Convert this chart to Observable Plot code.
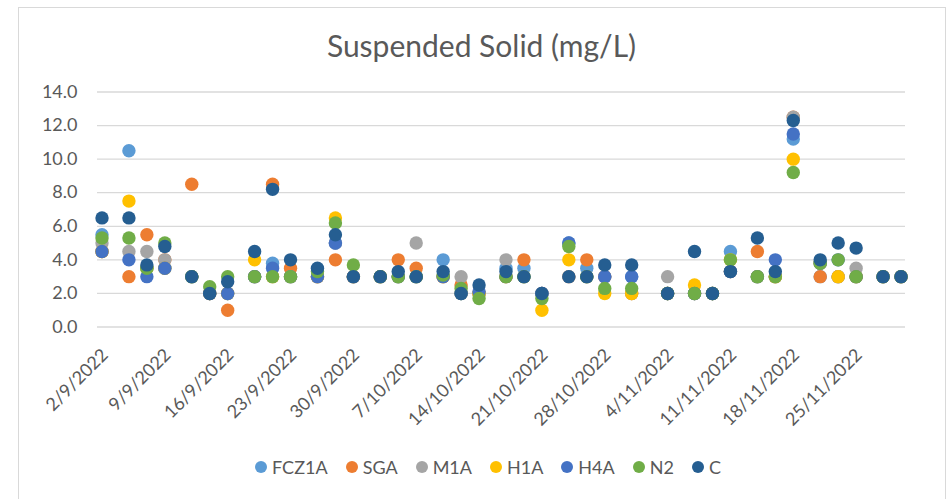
<!DOCTYPE html>
<html>
<head>
<meta charset="utf-8">
<script src="https://cdn.jsdelivr.net/npm/d3@7"></script>
<script src="https://cdn.jsdelivr.net/npm/@observablehq/plot@0.6"></script>
<style>
  html, body { margin: 0; padding: 0; background: #fff; }
  #wrap { position: relative; width: 952px; height: 499px; overflow: hidden; font-family: Lato, "Open Sans", sans-serif; color: #595959; }
  #frame { position: absolute; left: 18px; top: 7px; width: 928px; height: 520px; box-sizing: border-box; border: 1px solid #d9d9d9; }
  #title { position: absolute; left: 0; width: 963px; top: 25px; height: 40px; line-height: 40px; text-align: center; font-size: 30px; }
  #chart { position: absolute; left: 0; top: 70px; }
  #legend { position: absolute; left: 0; width: 976px; top: 455px; height: 24px; display: flex; justify-content: center; align-items: center; gap: 18px; font-size: 18px; }
  #legend .item { display: flex; align-items: center; gap: 5px; }
  #legend .sw { width: 12px; height: 12px; border-radius: 50%; display: inline-block; }
</style>
</head>
<body>
<div id="wrap">
  <div id="frame"></div>
  <div id="title">Suspended Solid (mg/L)</div>
  <div id="chart"></div>
  <div id="legend"></div>
</div>
<script>
// Sampling dates (d/m/yyyy)
const dates = ["2/9/2022","5/9/2022","7/9/2022","9/9/2022","12/9/2022","14/9/2022","16/9/2022","19/9/2022","21/9/2022","23/9/2022",
  "26/9/2022","28/9/2022","30/9/2022","3/10/2022","5/10/2022","7/10/2022","10/10/2022","12/10/2022","14/10/2022","17/10/2022",
  "19/10/2022","21/10/2022","24/10/2022","26/10/2022","28/10/2022","31/10/2022","4/11/2022","7/11/2022","9/11/2022","11/11/2022",
  "14/11/2022","16/11/2022","18/11/2022","21/11/2022","23/11/2022","25/11/2022","28/11/2022","30/11/2022"];

const seriesNames = ["FCZ1A","SGA","M1A","H1A","H4A","N2","C"];
const seriesColors = ["#5B9BD5","#ED7D31","#A5A5A5","#FFC000","#4472C4","#70AD47","#255E91"];

const FCZ1A = [5.5,10.5,3.5,3.5,3,2,2,3,3.8,3, 3,5,3,3,3,3,4.0,2,2,3.5, 3.5,2,5,3.5,3,3,2,2,2,4.5, 3,3,11.2,3,3,3,3,3];
const SGA   = [4.5,3.0,5.5,4.0,8.5,2,1.0,3,8.5,3.5, 3,4.0,3,3,4.0,3.5,3,2.5,2,3, 4.0,2,3,4.0,3,2,2,2,2,3.3, 4.5,3,12.5,3.0,3,3,3,3];
const M1A   = [5.0,4.5,4.5,4.0,3,2,2,3,3,3, 3,5,3,3,3,5.0,3,3.0,2,4.0, 3,2,3,3,3,2,3.0,2,2,3.3, 3,3,12.5,3.8,3,3.5,3,3];
const H1A   = [4.5,7.5,3.5,3.5,3,2,2,4.0,3,3, 3,6.5,3,3,3,3,3,2,2,3, 3,1.0,4.0,3,2.0,2.0,2,2.5,2,4.0, 3,3.0,10.0,3.8,3.0,3,3,3];
const H4A   = [4.5,4.0,3.0,3.5,3,2,2.0,3,3.5,3, 3.0,5.0,3,3,3,3,3.0,2,2.1,3, 3,2,5.0,3,3.0,3.0,2,2,2,3.3, 3,4.0,11.5,3.8,4.0,3,3,3];
const N2    = [5.3,5.3,3.5,5.0,3,2.4,3.0,3.0,3.0,3.0, 3.3,6.2,3.7,3,3.0,3,3.1,2.3,1.7,3.0, 3,1.7,4.8,3,2.3,2.3,2,2.0,2,4.0, 3.0,3.0,9.2,3.8,4.0,3.0,3,3];
const C     = [6.5,6.5,3.7,4.8,3.0,2.0,2.7,4.5,8.2,4.0, 3.5,5.5,3.0,3.0,3.3,3.0,3.3,2.0,2.5,3.3, 3.0,2.0,3.0,3.0,3.7,3.7,2.0,4.5,2.0,3.3, 5.3,3.3,12.3,4.0,5.0,4.7,3.0,3.0];

const yTicks = [0,2,4,6,8,10,12,14];
const xTickLabels = ["2/9/2022","9/9/2022","16/9/2022","23/9/2022","30/9/2022","7/10/2022","14/10/2022","21/10/2022","28/10/2022","4/11/2022","11/11/2022","18/11/2022","25/11/2022"];

const seriesValues = [FCZ1A, SGA, M1A, H1A, H4A, N2, C];
const parseDMY = s => { const [d, m, y] = s.split("/").map(Number); return new Date(Date.UTC(y, m - 1, d, 12)); };

const data = [];
seriesNames.forEach((name, i) => {
  seriesValues[i].forEach((v, j) => {
    if (v != null) data.push({series: name, date: parseDMY(dates[j]), value: v});
  });
});

const xTicks = xTickLabels.map(parseDMY);
const fmt = d => `${d.getUTCDate()}/${d.getUTCMonth() + 1}/${d.getUTCFullYear()}`;

const chart = Plot.plot({
  width: 952,
  height: 380,
  marginLeft: 97,
  marginRight: 47,
  marginTop: 21.5,
  marginBottom: 123.5,
  style: {fontFamily: "Lato, 'Open Sans', sans-serif", fontSize: "18px", color: "#595959", background: "transparent"},
  x: {type: "utc", domain: [new Date(Date.UTC(2022, 8, 2)), new Date(Date.UTC(2022, 11, 1))]},
  y: {domain: [0, 14]},
  color: {domain: seriesNames, range: seriesColors},
  marks: [
    Plot.gridY(yTicks, {stroke: "#d9d9d9", strokeOpacity: 1, strokeWidth: 1.3}),
    Plot.axisY(yTicks, {tickSize: 0, tickPadding: 20, tickFormat: d3.format(".1f"), fontSize: 18, label: null}),
    Plot.axisX(xTicks, {tickSize: 0, tickPadding: 25, tickRotate: -45, tickFormat: fmt, fontSize: 18, label: null, dx: 3}),
    Plot.dot(data, {x: "date", y: "value", fill: "series", r: 6.7, stroke: null})
  ]
});
document.getElementById("chart").appendChild(chart);

const legend = document.getElementById("legend");
seriesNames.forEach((name, i) => {
  const item = document.createElement("div");
  item.className = "item";
  const sw = document.createElement("span");
  sw.className = "sw";
  sw.style.background = seriesColors[i];
  const label = document.createElement("span");
  label.textContent = name;
  item.appendChild(sw);
  item.appendChild(label);
  legend.appendChild(item);
});
</script>
</body>
</html>
